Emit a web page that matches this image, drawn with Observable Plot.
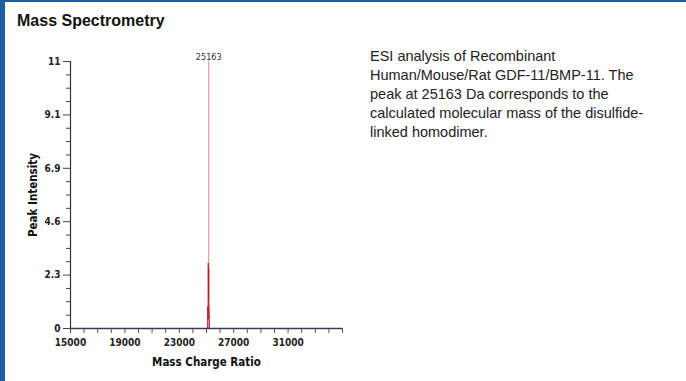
<!DOCTYPE html>
<html><head><meta charset="utf-8">
<script src="https://cdn.jsdelivr.net/npm/d3@7"></script>
<script src="https://cdn.jsdelivr.net/npm/@observablehq/plot@0.6"></script>
<style>
body{margin:0;background:#fff;}
#frame{position:relative;width:686px;height:381px;overflow:hidden;background:#fff;}
#bl{position:absolute;left:0;top:0;width:5px;height:381px;background:#1a5fa8;}
#bt{position:absolute;left:0;top:0;width:686px;height:2px;background:#1a5fa8;}
#title{position:absolute;left:17px;top:12px;font:bold 16px "Liberation Sans",Arial,sans-serif;color:#111;}
#desc{position:absolute;left:370px;top:47px;font:14.5px "Liberation Sans",Arial,sans-serif;line-height:19px;color:#222;}
#chart{position:absolute;left:0;top:40px;}
</style></head>
<body>
<div id="frame">
<div id="bl"></div><div id="bt"></div>
<div id="title">Mass Spectrometry</div>
<div id="desc">ESI analysis of Recombinant<br>Human/Mouse/Rat GDF-11/BMP-11. The<br>peak at 25163 Da corresponds to the<br>calculated molecular mass of the disulfide-<br>linked homodimer.</div>
<div id="chart"></div>
</div>
<script>
// Spectrum data (mass/charge vs intensity), near the peak
const masses = [24950, 25080, 25100, 25115, 25130, 25150, 25163, 25175, 25190, 25205, 25220, 25300];
const intensities = [0, 0, 0.95, 0.4, 2.8, 1.2, 2.6, 1.0, 0.9, 0.3, 0, 0];
const peakMass = 25163;
const peakIntensity = 11.43;

// Axis ticks
const yMajor = [0, 2.286, 4.572, 6.858, 9.144, 11.43];
const yLabels = ["0", "2.3", "4.6", "6.9", "9.1", "11"];
const xLabelTicks = [15000, 19000, 23000, 27000, 31000];
const xLabels = ["15000", "19000", "23000", "27000", "31000"];
const xDomain = [15000, 35000];
const yDomain = [0, 11.43];

const yMinor = [];
for (let i = 0; i < yMajor.length - 1; i++) {
  for (let k = 1; k < 4; k++) yMinor.push(yMajor[i] + (yMajor[i + 1] - yMajor[i]) * k / 4);
}
const xAll = d3.range(15000, 35001, 1000);

const spectrum = masses.map((m, i) => ({mass: m, intensity: intensities[i]}));
const font = '"Liberation Sans Narrow","DejaVu Sans Condensed","Roboto Condensed",sans-serif';

const chart = Plot.plot({
  width: 350, height: 341,
  marginLeft: 70, marginRight: 8, marginTop: 21, marginBottom: 53,
  x: {domain: xDomain},
  y: {domain: yDomain},
  style: {fontFamily: font, fontSize: "10px", fontWeight: "bold", color: "#222", background: "transparent", overflow: "visible"},
  marks: [
    Plot.axisY({ticks: yMinor, tickSize: 4, tickFormat: () => "", label: null, stroke: "#444"}),
    Plot.axisY({ticks: yMajor, tickSize: 7, tickPadding: 3, tickFormat: d => yLabels[yMajor.indexOf(d)], label: null, stroke: "#444"}),
    Plot.axisX({ticks: xAll, tickSize: 5, tickPadding: 5, tickFormat: d => { const i = xLabelTicks.indexOf(d); return i >= 0 ? xLabels[i] : ""; }, label: null, stroke: "#555"}),
    Plot.ruleX([xDomain[0]], {stroke: "#333", strokeWidth: 1.2}),
    Plot.ruleX([peakMass], {y1: 0, y2: peakIntensity, stroke: "#ec8a92", strokeWidth: 1}),
    Plot.line(spectrum, {x: "mass", y: "intensity", stroke: "#b81c28", strokeWidth: 1}),
    Plot.ruleY([0], {stroke: "#3a3f55", strokeWidth: 1.5}),
    Plot.text([peakMass], {x: d => d, y: peakIntensity, text: d => String(d), dy: -4, fontSize: 9, fontWeight: "normal", fill: "#333"}),
    Plot.text(["Peak Intensity"], {frameAnchor: "left", textAnchor: "middle", lineAnchor: "middle", dx: -37, rotate: -90, fontSize: 11.5, fontWeight: "bold", fill: "#111"}),
    Plot.text(["Mass Charge Ratio"], {frameAnchor: "bottom", textAnchor: "middle", lineAnchor: "middle", dy: 34, fontSize: 11.5, fontWeight: "bold", fill: "#111"})
  ]
});
document.getElementById("chart").appendChild(chart);
</script>
</body></html>
